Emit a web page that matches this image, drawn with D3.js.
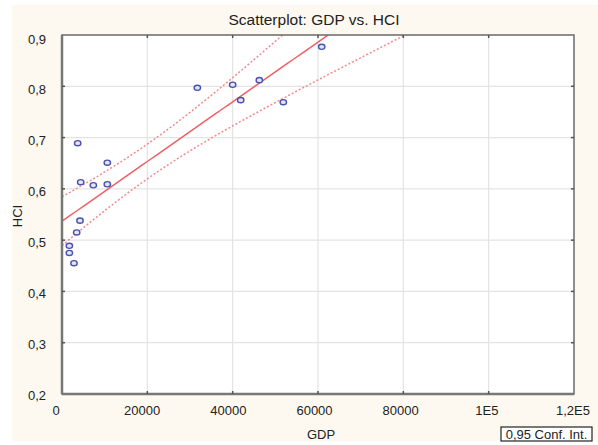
<!DOCTYPE html>
<html><head><meta charset="utf-8">
<script src="https://cdn.jsdelivr.net/npm/d3@7"></script>
<style>body{margin:0;background:#fff}text{font-family:"Liberation Sans",Arial,sans-serif;fill:#222}</style>
</head><body>
<svg id="c" width="598" height="445"></svg>
<script>
// ---- data ----
const gdp = [3680, 4380, 7340, 10620, 10620, 31720, 40000, 41880, 46250, 51870, 60870, 4220, 3440, 1720, 1720, 2810];
const hci = [0.689, 0.613, 0.607, 0.651, 0.609, 0.797, 0.803, 0.773, 0.812, 0.769, 0.877, 0.538, 0.515, 0.489, 0.475, 0.455];
const xTickValues = [0, 20000, 40000, 60000, 80000, 100000, 120000];
const xTickLabels = ["0", "20000", "40000", "60000", "80000", "1E5", "1,2E5"];
const yTickValues = [0.2, 0.3, 0.4, 0.5, 0.6, 0.7, 0.8, 0.9];
const yTickLabels = ["0,2", "0,3", "0,4", "0,5", "0,6", "0,7", "0,8", "0,9"];
const titleText = "Scatterplot: GDP vs. HCI";
const xTitle = "GDP", yTitle = "HCI", legendText = "0,95 Conf. Int.";
const confLevelT = 2.1448; // t(0.975, df=14)

// ---- layout ----
const svg = d3.select("#c");
const L = 62, T = 35, R = 574, B = 394;
const x = d3.scaleLinear().domain([0, 120000]).range([L, R]);
const y = d3.scaleLinear().domain([0.2, 0.9]).range([B, T]);

svg.append("rect").attr("x", 12).attr("y", 5).attr("width", 586).attr("height", 436).attr("fill", "#fdf9f0");
svg.append("rect").attr("x", L).attr("y", T).attr("width", R - L).attr("height", B - T).attr("fill", "#fff");

// grid
svg.append("g").selectAll("line").data(xTickValues.slice(1, -1)).join("line")
  .attr("x1", d => x(d)).attr("x2", d => x(d)).attr("y1", T).attr("y2", B)
  .attr("stroke", "#e3e3e3").attr("stroke-width", 1.2);
svg.append("g").selectAll("line").data(yTickValues.slice(1, -1)).join("line")
  .attr("y1", d => y(d)).attr("y2", d => y(d)).attr("x1", L).attr("x2", R)
  .attr("stroke", "#e3e3e3").attr("stroke-width", 1.2);

// regression + CI
const n = gdp.length;
const mx = d3.mean(gdp), my = d3.mean(hci);
let sxx = 0, sxy = 0;
for (let i = 0; i < n; i++) { sxx += (gdp[i] - mx) ** 2; sxy += (gdp[i] - mx) * (hci[i] - my); }
const slope = sxy / sxx, icpt = my - slope * mx;
let sse = 0;
for (let i = 0; i < n; i++) sse += (hci[i] - icpt - slope * gdp[i]) ** 2;
const s = Math.sqrt(sse / (n - 2));
const xs = d3.range(0, 120001, 1000);
const fit = v => icpt + slope * v;
const hw = v => confLevelT * s * Math.sqrt(1 / n + (v - mx) ** 2 / sxx);

svg.append("clipPath").attr("id", "clip").append("rect").attr("x", L).attr("y", T).attr("width", R - L).attr("height", B - T);
const g = svg.append("g").attr("clip-path", "url(#clip)");
const line = f => d3.line().x(d => x(d)).y(d => y(f(d)))(xs);
g.append("path").attr("d", line(fit)).attr("fill", "none").attr("stroke", "#ef5f65").attr("stroke-width", 1.5);
g.append("path").attr("d", line(v => fit(v) + hw(v))).attr("fill", "none").attr("stroke", "#f28a8e").attr("stroke-width", 1.5).attr("stroke-dasharray", "2,2");
g.append("path").attr("d", line(v => fit(v) - hw(v))).attr("fill", "none").attr("stroke", "#f28a8e").attr("stroke-width", 1.5).attr("stroke-dasharray", "2,2");

// points
svg.append("g").selectAll("ellipse").data(gdp.map((d, i) => [d, hci[i]])).join("ellipse")
  .attr("cx", d => x(d[0])).attr("cy", d => y(d[1])).attr("rx", 3.2).attr("ry", 2.6)
  .attr("fill", "#e4e4f4").attr("stroke", "#4a52b0").attr("stroke-width", 1.4);

// frame
svg.append("rect").attr("x", L).attr("y", T).attr("width", R - L).attr("height", B - T)
  .attr("fill", "none").attr("stroke", "#6a6a6a").attr("stroke-width", 1.5);
svg.append("line").attr("x1", L).attr("x2", L).attr("y1", T).attr("y2", B).attr("stroke", "#777").attr("stroke-width", 2.5);
svg.append("line").attr("x1", L).attr("x2", R).attr("y1", B).attr("y2", B).attr("stroke", "#777").attr("stroke-width", 2.5);
// small tick marks on the frame
const tk = svg.append("g").attr("stroke", "#555").attr("stroke-width", 1.5);
xTickValues.slice(1, -1).forEach(v => {
  tk.append("line").attr("x1", x(v)).attr("x2", x(v)).attr("y1", T).attr("y2", T + 3);
  tk.append("line").attr("x1", x(v)).attr("x2", x(v)).attr("y1", B).attr("y2", B - 3);
});
yTickValues.slice(1, -1).forEach(v => {
  tk.append("line").attr("y1", y(v)).attr("y2", y(v)).attr("x1", L).attr("x2", L + 3);
  tk.append("line").attr("y1", y(v)).attr("y2", y(v)).attr("x1", R).attr("x2", R - 3);
});

// axis labels
svg.append("g").selectAll("text").data(xTickValues).join("text")
  .attr("x", (d, i) => x(d) - 6 + 5 * i / 6).attr("y", 415).attr("text-anchor", "middle")
  .attr("font-size", 13).text((d, i) => xTickLabels[i]);
svg.append("g").selectAll("text").data(yTickValues).join("text")
  .attr("x", 46).attr("y", (d, i) => y(d) + 5.5 + 3 * i / 7).attr("text-anchor", "end")
  .attr("font-size", 13).text((d, i) => yTickLabels[i]);

svg.append("text").attr("x", 314).attr("y", 25).attr("text-anchor", "middle").attr("font-size", 15.5).text(titleText);
svg.append("text").attr("x", 321).attr("y", 439).attr("text-anchor", "middle").attr("font-size", 13).text(xTitle);
svg.append("text").attr("transform", "translate(22,216) rotate(-90)").attr("text-anchor", "middle").attr("font-size", 13).text(yTitle);

// legend box
svg.append("rect").attr("x", 501).attr("y", 427).attr("width", 91).attr("height", 14).attr("fill", "#fff").attr("stroke", "#222").attr("stroke-width", 1.2);
svg.append("text").attr("x", 546.5).attr("y", 438.8).attr("text-anchor", "middle").attr("font-size", 13).text(legendText);
</script>
</body></html>
